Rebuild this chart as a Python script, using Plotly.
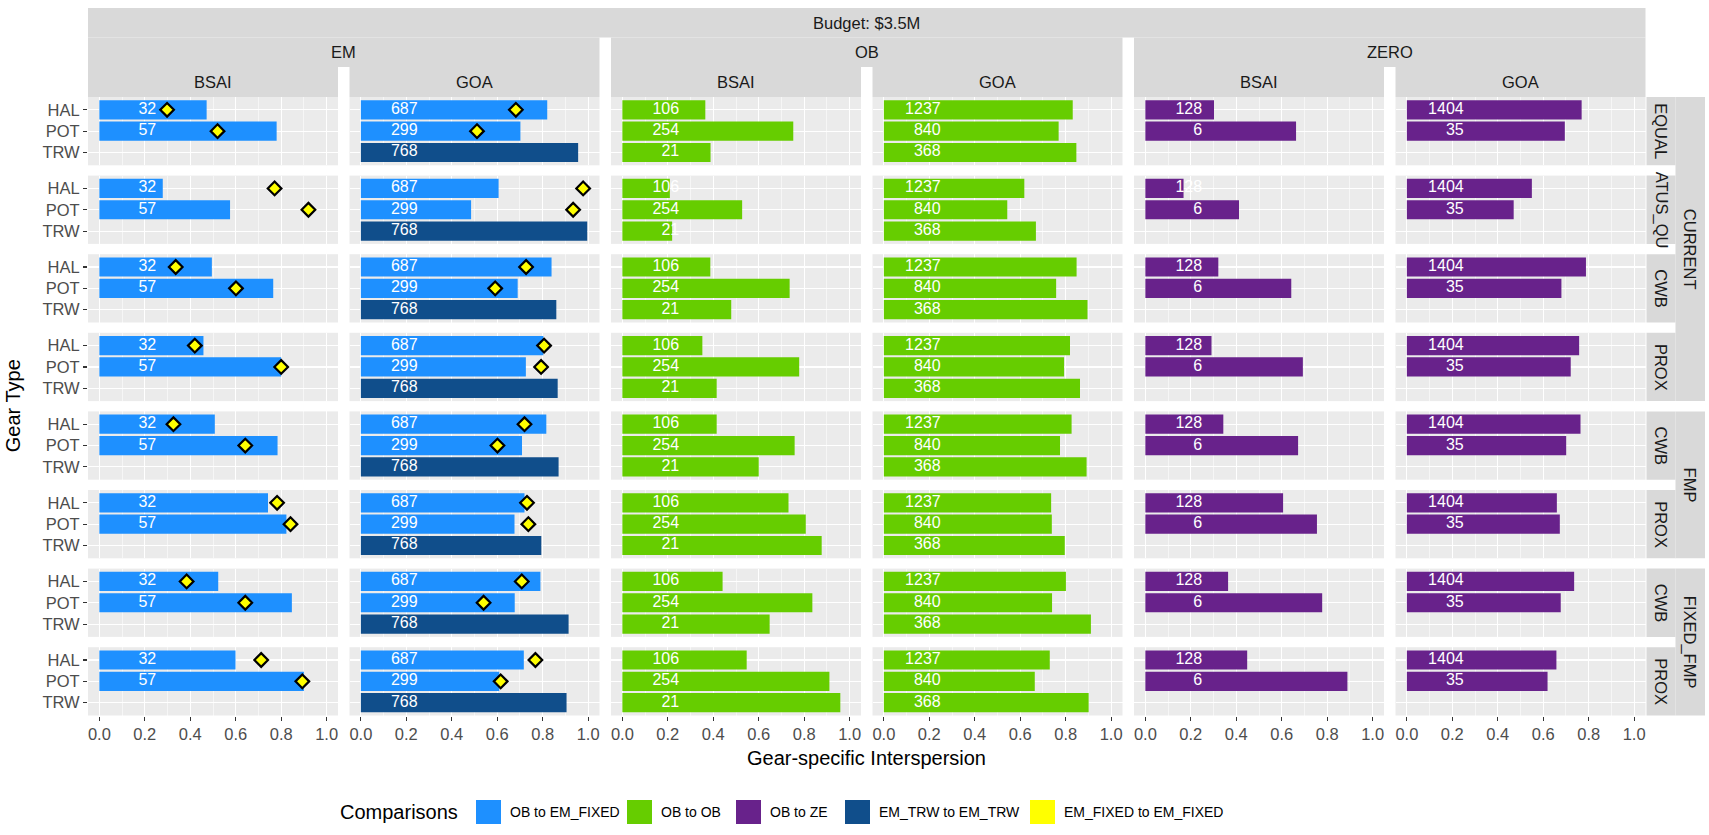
import plotly.graph_objects as go

W, H = 1709, 835

# ---------------- data ----------------
gears = ["HAL", "POT", "TRW"]
budget_label = "Budget: $3.5M"
col_groups = ["EM", "EM", "OB", "OB", "ZERO", "ZERO"]
col_regions = ["BSAI", "GOA", "BSAI", "GOA", "BSAI", "GOA"]
row_groups = ["CURRENT", "CURRENT", "CURRENT", "CURRENT", "FMP", "FMP", "FIXED_FMP", "FIXED_FMP"]
row_methods = ["EQUAL", "STATUS_QUO", "CWB", "PROX", "CWB", "PROX", "CWB", "PROX"]
row_method_shown = {"STATUS_QUO": "ATUS_QU"}  # clipped by the strip box in the reference

comparisons = ["OB to EM_FIXED", "OB to OB", "OB to ZE", "EM_TRW to EM_TRW", "EM_FIXED to EM_FIXED"]
comparison_colors = ["#1E90FF", "#66CD00", "#68228B", "#104E8B", "#FFFF00"]

# EM - BSAI
em_bsai_hal = [0.472, 0.279, 0.495, 0.458, 0.508, 0.742, 0.523, 0.599]
em_bsai_pot = [0.780, 0.575, 0.765, 0.800, 0.784, 0.823, 0.847, 0.900]
em_bsai_hal_fixed = [0.298, 0.771, 0.336, 0.420, 0.326, 0.782, 0.384, 0.712]
em_bsai_pot_fixed = [0.520, 0.920, 0.601, 0.800, 0.642, 0.841, 0.642, 0.893]
em_bsai_n = {"HAL": 32, "POT": 57}
# EM - GOA
em_goa_hal = [0.820, 0.606, 0.839, 0.803, 0.816, 0.720, 0.790, 0.717]
em_goa_pot = [0.702, 0.485, 0.690, 0.726, 0.709, 0.676, 0.677, 0.609]
em_goa_trw = [0.956, 0.996, 0.860, 0.866, 0.870, 0.794, 0.914, 0.905]
em_goa_hal_fixed = [0.682, 0.978, 0.727, 0.806, 0.720, 0.731, 0.708, 0.768]
em_goa_pot_fixed = [0.511, 0.934, 0.591, 0.793, 0.601, 0.737, 0.540, 0.615]
em_goa_n = {"HAL": 687, "POT": 299, "TRW": 768}
# OB - BSAI
ob_bsai_hal = [0.365, 0.209, 0.387, 0.352, 0.415, 0.731, 0.441, 0.547]
ob_bsai_pot = [0.752, 0.527, 0.736, 0.778, 0.758, 0.807, 0.836, 0.911]
ob_bsai_trw = [0.388, 0.219, 0.479, 0.415, 0.600, 0.877, 0.648, 0.959]
ob_bsai_n = {"HAL": 106, "POT": 254, "TRW": 21}
# OB - GOA
ob_goa_hal = [0.831, 0.618, 0.848, 0.819, 0.826, 0.736, 0.801, 0.730]
ob_goa_pot = [0.769, 0.543, 0.758, 0.793, 0.775, 0.739, 0.740, 0.664]
ob_goa_trw = [0.847, 0.669, 0.896, 0.863, 0.892, 0.796, 0.911, 0.901]
ob_goa_n = {"HAL": 1237, "POT": 840, "TRW": 368}
# ZERO - BSAI
ze_bsai_hal = [0.302, 0.168, 0.321, 0.291, 0.343, 0.606, 0.364, 0.448]
ze_bsai_pot = [0.663, 0.412, 0.642, 0.693, 0.672, 0.755, 0.778, 0.889]
ze_bsai_n = {"HAL": 128, "POT": 6}
# ZERO - GOA
ze_goa_hal = [0.769, 0.550, 0.788, 0.758, 0.764, 0.660, 0.736, 0.658]
ze_goa_pot = [0.695, 0.470, 0.680, 0.721, 0.701, 0.673, 0.677, 0.619]
ze_goa_n = {"HAL": 1404, "POT": 35}

x_ticks = [0.0, 0.2, 0.4, 0.6, 0.8, 1.0]
x_ticktext = ["0.0", "0.2", "0.4", "0.6", "0.8", "1.0"]
x_minor = [0.1, 0.3, 0.5, 0.7, 0.9]

columns = [
    dict(bars={"HAL": em_bsai_hal, "POT": em_bsai_pot}, n=em_bsai_n,
         fixed={"HAL": em_bsai_hal_fixed, "POT": em_bsai_pot_fixed}),
    dict(bars={"HAL": em_goa_hal, "POT": em_goa_pot, "TRW": em_goa_trw}, n=em_goa_n,
         fixed={"HAL": em_goa_hal_fixed, "POT": em_goa_pot_fixed}),
    dict(bars={"HAL": ob_bsai_hal, "POT": ob_bsai_pot, "TRW": ob_bsai_trw}, n=ob_bsai_n, fixed={}),
    dict(bars={"HAL": ob_goa_hal, "POT": ob_goa_pot, "TRW": ob_goa_trw}, n=ob_goa_n, fixed={}),
    dict(bars={"HAL": ze_bsai_hal, "POT": ze_bsai_pot}, n=ze_bsai_n, fixed={}),
    dict(bars={"HAL": ze_goa_hal, "POT": ze_goa_pot}, n=ze_goa_n, fixed={}),
]


def comparison_of(group, gear):
    if group == "EM":
        return "EM_TRW to EM_TRW" if gear == "TRW" else "OB to EM_FIXED"
    if group == "OB":
        return "OB to OB"
    return "OB to ZE"


color_of = dict(zip(comparisons, comparison_colors))

# ---------------- geometry (pixels) ----------------
FONT = "Liberation Sans, Arial, sans-serif"
PANEL_L, PANEL_W, COL_PITCH = 88.0, 250.0, 261.5
PANEL_T, PANEL_H, ROW_PITCH = 97.0, 68.3, 78.6
NROW, NCOL = len(row_methods), len(col_regions)
STRIP_BG = "#D9D9D9"
TICK_SIZE = 16.5
STRIP_SIZE = 16.5
TITLE_SIZE = 20


def px(x):
    return x / W


def py(y):
    return 1 - y / H


def col_x(c):
    return PANEL_L + c * COL_PITCH, PANEL_L + c * COL_PITCH + PANEL_W


def row_y(r):
    return PANEL_T + r * ROW_PITCH, PANEL_T + r * ROW_PITCH + PANEL_H


fig = go.Figure()
layout = dict()

for r in range(NROW):
    for c in range(NCOL):
        n = r * NCOL + c + 1
        xa = "x" if n == 1 else f"x{n}"
        ya = "y" if n == 1 else f"y{n}"
        x0, x1 = col_x(c)
        t0, t1 = row_y(r)
        layout["xaxis" if n == 1 else f"xaxis{n}"] = dict(
            domain=[px(x0), px(x1)], anchor=ya, range=[-0.05, 1.05],
            tickmode="array", tickvals=x_ticks, ticktext=x_ticktext,
            showgrid=True, gridcolor="white", gridwidth=1.1,
            minor=dict(tickvals=x_minor, showgrid=True, gridcolor="white", gridwidth=0.55, ticks=""),
            zeroline=False, showline=False, automargin=False,
            showticklabels=(r == NROW - 1), ticks="outside" if r == NROW - 1 else "",
            ticklen=4, tickwidth=1.1, tickcolor="#333333",
            tickfont=dict(family=FONT, size=TICK_SIZE, color="#4D4D4D"),
        )
        layout["yaxis" if n == 1 else f"yaxis{n}"] = dict(
            domain=[py(t1), py(t0)], anchor=xa, type="category",
            categoryorder="array", categoryarray=gears, range=[2.6, -0.6],
            showgrid=True, gridcolor="white", gridwidth=1.1,
            zeroline=False, showline=False, automargin=False,
            showticklabels=(c == 0), ticks="outside" if c == 0 else "",
            ticklen=4, tickwidth=1.1, tickcolor="#333333",
            tickfont=dict(family=FONT, size=TICK_SIZE, color="#4D4D4D"),
        )
        col = columns[c]
        group = col_groups[c]
        bar_gears = [g for g in gears if g in col["bars"]]
        fig.add_trace(go.Bar(
            x=[col["bars"][g][r] for g in bar_gears], y=bar_gears, orientation="h",
            width=0.9, marker=dict(color=[color_of[comparison_of(group, g)] for g in bar_gears], line=dict(width=0)),
            xaxis=xa, yaxis=ya, showlegend=False, hoverinfo="x+y",
        ))
        fig.add_trace(go.Scatter(
            x=[0.25] * len(bar_gears), y=bar_gears, mode="text",
            text=[str(col["n"][g]) for g in bar_gears], textposition="middle left",
            textfont=dict(family=FONT, size=16, color="white"),
            xaxis=xa, yaxis=ya, showlegend=False, hoverinfo="skip",
        ))
        if col["fixed"]:
            fg = [g for g in gears if g in col["fixed"]]
            fig.add_trace(go.Scatter(
                x=[col["fixed"][g][r] for g in fg], y=fg, mode="markers",
                marker=dict(symbol="diamond", size=10.5, color=color_of["EM_FIXED to EM_FIXED"],
                            line=dict(color="black", width=2.2)),
                xaxis=xa, yaxis=ya, showlegend=False,
            ))

shapes = []
annotations = []


def strip(x0, x1, y0, y1, text, angle=0, size=STRIP_SIZE):
    shapes.append(dict(type="rect", xref="paper", yref="paper", x0=px(x0), x1=px(x1),
                       y0=py(y1), y1=py(y0), fillcolor=STRIP_BG, line=dict(width=0), layer="below"))
    annotations.append(dict(xref="paper", yref="paper", x=px((x0 + x1) / 2), y=py((y0 + y1) / 2),
                            text=text, showarrow=False, textangle=angle,
                            font=dict(family=FONT, size=size, color="#1A1A1A"),
                            xanchor="center", yanchor="middle"))


# top strips
left_all, right_all = col_x(0)[0], col_x(NCOL - 1)[1]
bottom_all = row_y(NROW - 1)[1]
strip(left_all, right_all, 8, 37.5, budget_label)
c = 0
while c < NCOL:
    c2 = c
    while c2 + 1 < NCOL and col_groups[c2 + 1] == col_groups[c]:
        c2 += 1
    strip(col_x(c)[0], col_x(c2)[1], 37.5, 67, col_groups[c])
    c = c2 + 1
for c in range(NCOL):
    strip(col_x(c)[0], col_x(c)[1], 67, PANEL_T, col_regions[c])

# right strips
IN_X0, IN_X1, OUT_X1 = 1646.5, 1675.5, 1705.0
for r in range(NROW):
    t0, t1 = row_y(r)
    strip(IN_X0, IN_X1, t0, t1, row_method_shown.get(row_methods[r], row_methods[r]), angle=90)
r = 0
while r < NROW:
    r2 = r
    while r2 + 1 < NROW and row_groups[r2 + 1] == row_groups[r]:
        r2 += 1
    strip(IN_X1, OUT_X1, row_y(r)[0], row_y(r2)[1], row_groups[r], angle=90)
    r = r2 + 1

# axis titles
annotations.append(dict(xref="paper", yref="paper", x=px(13), y=py((PANEL_T + bottom_all) / 2),
                        text="Gear Type", textangle=-90, showarrow=False,
                        font=dict(family=FONT, size=TITLE_SIZE, color="black"), xanchor="center", yanchor="middle"))
annotations.append(dict(xref="paper", yref="paper", x=px((left_all + right_all) / 2), y=py(758),
                        text="Gear-specific Interspersion", showarrow=False,
                        font=dict(family=FONT, size=TITLE_SIZE, color="black"), xanchor="center", yanchor="middle"))

# legend (drawn by hand, ggplot style)
LEG_Y = 812
KEY_W, KEY_H = 25, 24
annotations.append(dict(xref="paper", yref="paper", x=px(338), y=py(LEG_Y), text="Comparisons",
                        showarrow=False, xanchor="left", yanchor="middle",
                        font=dict(family=FONT, size=TITLE_SIZE, color="black")))
key_x = [476, 627, 736, 845, 1030]
for kx, lab, colr in zip(key_x, comparisons, comparison_colors):
    shapes.append(dict(type="rect", xref="paper", yref="paper", x0=px(kx), x1=px(kx + KEY_W),
                       y0=py(LEG_Y + KEY_H / 2), y1=py(LEG_Y - KEY_H / 2), fillcolor=colr,
                       line=dict(width=0)))
    annotations.append(dict(xref="paper", yref="paper", x=px(kx + KEY_W + 7), y=py(LEG_Y), text=lab,
                            showarrow=False, xanchor="left", yanchor="middle",
                            font=dict(family=FONT, size=14, color="black")))

fig.update_layout(
    width=W, height=H, margin=dict(l=0, r=0, t=0, b=0, autoexpand=False),
    paper_bgcolor="white", plot_bgcolor="#EBEBEB",
    showlegend=False, barmode="overlay", hovermode=False,
    shapes=shapes, annotations=annotations,
    font=dict(family=FONT),
    **layout,
)

fig.write_html("out.html", config={"displayModeBar": False, "staticPlot": True},
               post_script="document.body.style.margin='0px';document.body.style.overflow='hidden';")
